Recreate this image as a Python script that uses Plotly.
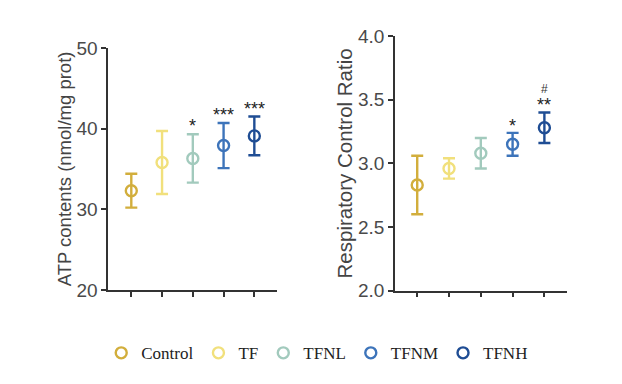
import plotly.graph_objects as go

groups = ["Control", "TF", "TFNL", "TFNM", "TFNH"]
colors = ["#D2AE3C", "#F1E07C", "#A2CABD", "#3D74BA", "#1F4D94"]

atp_mean = [32.3, 35.8, 36.3, 37.9, 39.1]
atp_err = [2.1, 3.9, 3.0, 2.8, 2.4]
atp_sig = ["", "", "*", "***", "***"]

rcr_mean = [2.83, 2.96, 3.08, 3.15, 3.28]
rcr_err = [0.23, 0.08, 0.12, 0.09, 0.12]
rcr_sig = ["", "", "", "*", "**"]
rcr_sig2 = ["", "", "", "", "#"]

fig = go.Figure()

for i, g in enumerate(groups):
    fig.add_trace(go.Scatter(
        x=[i], y=[atp_mean[i]], mode="markers", name=g, legendgroup=g,
        marker=dict(symbol="circle-open", size=11, color=colors[i], line=dict(width=2.4, color=colors[i])),
        error_y=dict(type="data", array=[atp_err[i]], color=colors[i], thickness=2.4, width=6),
        xaxis="x", yaxis="y", showlegend=True))
    fig.add_trace(go.Scatter(
        x=[i], y=[rcr_mean[i]], mode="markers", name=g, legendgroup=g,
        marker=dict(symbol="circle-open", size=11, color=colors[i], line=dict(width=2.4, color=colors[i])),
        error_y=dict(type="data", array=[rcr_err[i]], color=colors[i], thickness=2.4, width=6),
        xaxis="x2", yaxis="y2", showlegend=False))

star_font = dict(size=18, color="#222", family="Liberation Sans")
annotations = []
for i in range(len(groups)):
    if atp_sig[i]:
        annotations.append(dict(x=i, y=atp_mean[i] + atp_err[i], xref="x", yref="y", text=atp_sig[i],
                                showarrow=False, yanchor="bottom", yshift=-4, font=star_font))
    if rcr_sig[i]:
        annotations.append(dict(x=i, y=rcr_mean[i] + rcr_err[i], xref="x2", yref="y2", text=rcr_sig[i],
                                showarrow=False, yanchor="bottom", yshift=-5, font=star_font))
    if rcr_sig2[i]:
        annotations.append(dict(x=i, y=rcr_mean[i] + rcr_err[i], xref="x2", yref="y2", text=rcr_sig2[i],
                                showarrow=False, yanchor="bottom", yshift=14,
                                font=dict(size=12, color="#333", family="Liberation Sans")))

axis_common = dict(showline=True, linecolor="#333", linewidth=1.6, ticks="outside",
                   tickcolor="#333", tickwidth=1.6, ticklen=5, showgrid=False, zeroline=False,
                   automargin=False)

fig.update_layout(
    width=622, height=384,
    margin=dict(l=0, r=0, t=0, b=0),
    paper_bgcolor="white", plot_bgcolor="white",
    font=dict(family="Liberation Sans", color="#444"),
    xaxis=dict(domain=[0.174, 0.446], range=[-0.75, 4.75], tickvals=list(range(5)),
               showticklabels=False, **axis_common),
    yaxis=dict(domain=[0.245, 0.875], range=[20, 50], tickvals=[20, 30, 40, 50],
               tickfont=dict(size=19, color="#4a4a4a"),
               title=dict(text="ATP contents (nmol/mg prot)", font=dict(size=18.5, color="#444"), standoff=0),
               **axis_common),
    xaxis2=dict(domain=[0.635, 0.911], range=[-0.7, 4.7], tickvals=list(range(5)),
                showticklabels=False, anchor="y2", **axis_common),
    yaxis2=dict(domain=[0.243, 0.906], range=[2.0, 4.0], tickvals=[2.0, 2.5, 3.0, 3.5, 4.0],
                tickformat=".1f", anchor="x2",
                tickfont=dict(size=19, color="#4a4a4a"),
                title=dict(text="Respiratory Control Ratio", font=dict(size=20.5, color="#444"), standoff=0),
                **axis_common),
    legend=dict(orientation="h", x=0.51, xanchor="center", y=0.08, yanchor="middle",
                font=dict(family="Liberation Serif", size=17, color="#222"),
                itemwidth=30, tracegroupgap=0, bgcolor="rgba(0,0,0,0)"),
    annotations=annotations,
)

fig.write_html("out.html", config={"displayModeBar": False},
               post_script="document.body.style.margin='0';document.body.style.overflow='hidden';")
